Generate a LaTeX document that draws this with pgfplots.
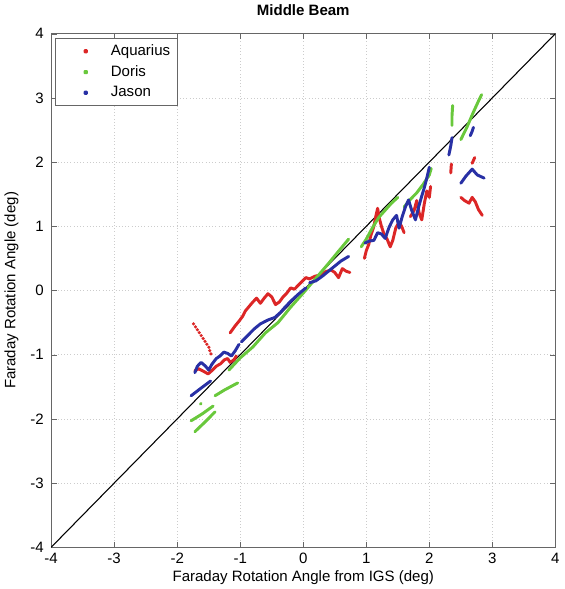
\documentclass[border=0pt]{standalone}
\usepackage{pgfplots}
\pgfplotsset{compat=1.18}
\usepackage{fontspec}
\setmainfont{Liberation Sans}
\definecolor{aqua}{RGB}{220,38,38}
\definecolor{doris}{RGB}{105,200,60}
\definecolor{jason}{RGB}{40,48,165}
\begin{document}
\begin{tikzpicture}[font=\fontsize{11.2}{13}\selectfont]
\begin{axis}[
    scale only axis,
    width=376pt, height=383pt,
    xmin=-4, xmax=4, ymin=-4, ymax=4,
    xtick={-4,...,4}, ytick={-4,...,4},
    grid=major,
    grid style={dotted, gray!40},
    axis line style={gray!80!black},
    tick style={gray!80!black},
    major tick length=4pt,
    tick align=inside,
    /pgf/number format/assume math mode=true,
    ticklabel style={font=\fontsize{11.2}{13}\selectfont},
    xticklabel style={yshift=-1pt},
    yticklabel style={xshift=-2pt},
    title={\textbf{Middle Beam}},
    xlabel={Faraday Rotation Angle from IGS (deg)},
    ylabel={Faraday Rotation Angle (deg)},
    xlabel style={yshift=2pt},
    ylabel style={yshift=2pt},
    title style={yshift=4pt},
    unbounded coords=jump,
    legend style={at={(0.008,0.992)}, anchor=north west, draw=gray!80!black,
      inner xsep=3pt, inner ysep=3pt, row sep=2pt, font=\fontsize{11.2}{13}\selectfont},
    legend cell align=left,
    legend image code/.code={\fill (0.65cm,0cm) circle (0.8pt); \path (0cm,0cm) (1.2cm,0cm);},
]
% diagonal reference
\addplot[black, line width=0.8pt, forget plot] coordinates {(-4,-4) (4,4)};

% Aquarius
\addplot[aqua, line width=2.2pt, line cap=round, line join=round] coordinates {
(-1.72,-1.25) (-1.66,-1.22) (-1.58,-1.26) (-1.51,-1.30) (-1.44,-1.24) (-1.38,-1.18) (-1.31,-1.14) (-1.25,-1.08) (-1.20,-1.06) (-1.16,-1.12) (-1.10,-1.08) (-1.06,-1.02)
(0,nan)
(-1.16,-0.66) (-1.08,-0.55) (-1.02,-0.48) (-0.96,-0.40) (-0.92,-0.32) (-0.86,-0.25) (-0.80,-0.18) (-0.74,-0.12) (-0.68,-0.20) (-0.62,-0.12) (-0.56,-0.05) (-0.50,-0.10) (-0.44,-0.22) (-0.38,-0.18) (-0.32,-0.10) (-0.26,-0.04) (-0.20,0.04) (-0.14,0.02) (-0.08,0.08) (-0.02,0.14) (0.04,0.20) (0.10,0.18) (0.18,0.22) (0.26,0.24) (0.32,0.28) (0.38,0.30) (0.44,0.32) (0.50,0.28) (0.56,0.20) (0.62,0.34) (0.68,0.30) (0.74,0.28)
(0,nan)
(0.97,0.50) (1.00,0.62) (1.04,0.72) (1.07,0.85) (1.12,1.00) (1.15,1.15) (1.18,1.28) (1.20,1.15) (1.24,1.00) (1.28,0.88) (1.33,0.80) (1.38,0.68) (1.42,0.78) (1.47,0.98) (1.52,1.06) (1.56,1.00) (1.60,0.90)
(0,nan)
(1.70,1.15) (1.76,1.25) (1.80,1.40) (1.84,1.20) (1.88,1.10) (1.92,1.35) (1.96,1.55) (2.00,1.45) (2.02,1.62)
(0,nan)
(2.34,1.83) (2.35,1.97)
(0,nan)
(2.68,1.98) (2.72,2.07)
(0,nan)
(2.50,1.45) (2.56,1.40) (2.63,1.36) (2.68,1.45) (2.73,1.38) (2.78,1.26) (2.84,1.17)
};
\addlegendentry{Aquarius}
% sparse dotted Aquarius trail
\addplot[aqua, line width=2.6pt, line cap=round, dash pattern=on 0pt off 2.6pt, forget plot] coordinates {
(-1.74,-0.52) (-1.70,-0.58) (-1.66,-0.64) (-1.62,-0.70) (-1.58,-0.76) (-1.54,-0.82) (-1.50,-0.88) (-1.48,-0.95) (-1.46,-1.00)
};

% Doris
\addplot[doris, line width=2.2pt, line cap=round, line join=round] coordinates {
(-1.18,-1.24) (-1.00,-1.05) (-0.80,-0.88) (-0.60,-0.66) (-0.40,-0.50) (-0.20,-0.26) (0.00,-0.04) (0.20,0.19) (0.40,0.42) (0.55,0.60) (0.72,0.80)
(0,nan)
(0.92,0.68) (1.00,0.80) (1.10,0.98) (1.20,1.14) (1.30,1.25) (1.40,1.36) (1.50,1.45)
(0,nan)
(1.60,1.30) (1.70,1.42) (1.80,1.52) (1.90,1.65) (2.00,1.80) (2.03,1.90)
(0,nan)
(-1.40,-1.64) (-1.25,-1.55) (-1.04,-1.44)
(0,nan)
(-1.78,-2.03) (-1.60,-1.92) (-1.43,-1.80)
(0,nan)
(-1.72,-2.20) (-1.56,-2.05) (-1.40,-1.89)
(0,nan)
(-1.63,-1.77) (-1.62,-1.76)
(0,nan)
(2.36,2.57) (2.36,2.72) (2.37,2.88)
(0,nan)
(2.50,2.35) (2.60,2.55) (2.70,2.78) (2.78,2.95) (2.83,3.05)
};
\addlegendentry{Doris}

% Jason
\addplot[jason, line width=2.2pt, line cap=round, line join=round] coordinates {
(-1.78,-1.64) (-1.62,-1.52) (-1.47,-1.41)
(0,nan)
(-1.72,-1.28) (-1.68,-1.18) (-1.62,-1.12) (-1.55,-1.18) (-1.50,-1.24) (-1.45,-1.15) (-1.38,-1.06) (-1.32,-1.02) (-1.26,-0.96) (-1.20,-0.98) (-1.14,-1.02) (-1.08,-0.94) (-1.02,-0.84)
(0,nan)
(-0.98,-0.80) (-0.88,-0.70) (-0.78,-0.60) (-0.68,-0.52) (-0.56,-0.46) (-0.45,-0.42) (-0.36,-0.34) (-0.28,-0.25) (-0.18,-0.15) (-0.08,-0.06) (0.04,0.04)
(0,nan)
(0.10,0.12) (0.20,0.15) (0.30,0.22) (0.40,0.30) (0.50,0.38) (0.60,0.46) (0.72,0.53)
(0,nan)
(0.98,0.74) (1.05,0.77) (1.12,0.78) (1.18,0.90) (1.24,0.88) (1.30,0.81) (1.36,0.98) (1.42,1.10) (1.48,1.17) (1.52,0.97) (1.57,1.15) (1.62,1.30) (1.67,1.41) (1.72,1.25) (1.78,1.10) (1.83,1.30) (1.88,1.47) (1.92,1.60) (1.96,1.75) (2.00,1.92)
(0,nan)
(2.31,2.11) (2.34,2.25) (2.36,2.38)
(0,nan)
(2.65,2.41) (2.68,2.48) (2.70,2.54)
(0,nan)
(2.50,1.67) (2.58,1.78) (2.68,1.89) (2.76,1.80) (2.87,1.75)
};
\addlegendentry{Jason}
\end{axis}
\end{tikzpicture}
\end{document}
